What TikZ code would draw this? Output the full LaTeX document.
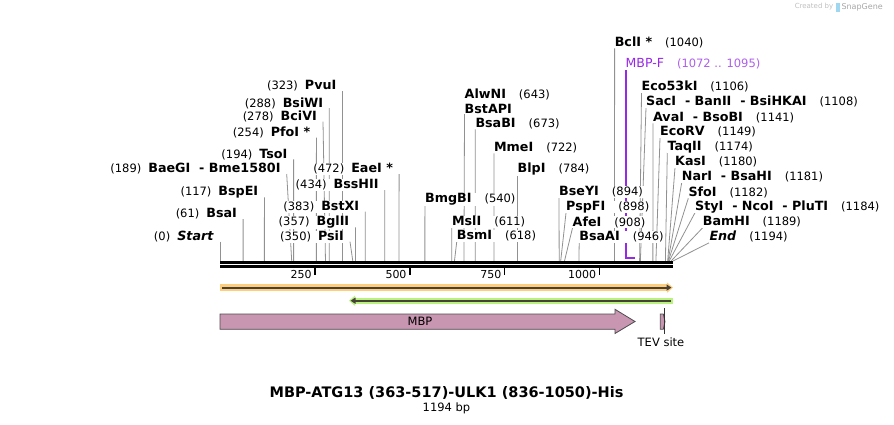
\documentclass[tikz,border=0pt]{standalone}
\usepackage{fontspec}
\setmainfont{DejaVu Sans}
\usetikzlibrary{arrows.meta, positioning, backgrounds}

\definecolor{cutgray}{RGB}{145,145,145}
\definecolor{mbppink}{RGB}{201,150,178}
\definecolor{primerpurple}{RGB}{150,40,230}
\definecolor{primerlight}{RGB}{175,95,235}
\definecolor{readorange}{RGB}{255,206,125}
\definecolor{readgreen}{RGB}{185,242,125}
\definecolor{readdark}{RGB}{70,66,58}
\definecolor{snapblue}{RGB}{160,215,240}

\newcommand{\cutnum}[1]{{\fontsize{11.5}{13}\selectfont\mdseries(#1)}}

\begin{document}
\begin{tikzpicture}[x=1pt, y=-1pt,
    node distance=2pt,
site/.style = {fill=white, inner xsep=1pt, inner ysep=0.5pt,
               font=\fontsize{12.7}{14}\selectfont\bfseries},
cut/.style = {cutgray, line width=0.8pt},
seq/.style = {line width=2.6pt},
tick/.style = {line width=1.8pt},
feat/.style = {fill=mbppink, draw=black!70, line width=0.8pt},
plain/.style = {inner sep=0pt, font=\fontsize{11}{12}\selectfont}
                        ]
\useasboundingbox (0,0) rectangle (894,424);
% sequence
\draw[seq] (220,262.3) -- (673,262.3);
\draw[seq] (220,266.3) -- (673,266.3);
\foreach \t in {250,500,750,1000} {
    \draw[tick] ({220+\t*0.3794},267) -- ++(0,8);
    \node[plain, anchor=east] at ({220+\t*0.3794-3},274.3) {\t};
}
%
\foreach \n/\p/\lx/\ly [count=\i] in {
    {\textit{Start}}/0/220/236.7,
    BsaI/61/243.1/214,
    BspEI/117/264.4/192.3,
    BaeGI~~- Bme1580I/189/286.7/169,
    TsoI/194/293.6/154.3,
    PfoI */254/316.4/132.7,
    BciVI/278/323/116.7,
    BsiWI/288/329.3/103,
    PvuI/323/342.5/86,
    PsiI/350/350/236.7,
    BglII/357/355.4/222.3,
    BstXI/383/365.3/206.7,
    BssHII/434/384.7/185,
    EaeI */472/399.1/169} {
    \node[site, anchor=east] (L\i) at (\lx-5,\ly) {\cutnum{\p}\hspace{7pt}\n};
    \coordinate (sL\i) at ({220+\p*0.3794},261);
    \begin{scope}[on background layer]
    \draw[cut] (L\i.east) ++(5,5) -- (sL\i);
    \end{scope}
}
%
\foreach \n/\p/\lx/\ly [count=\i] in {
    BmgBI/540/424.9/199,
    MslI/611/451.8/221.7,
    BsmI/618/456.7/236,
    BsaBI/673/475.3/123.3,
    MmeI/722/493.9/147.3,
    BlpI/784/517.5/169.3,
    BseYI/894/559/192,
    PspFI/898/566/207,
    AfeI/908/572.5/222,
    BsaAI/946/579.2/236.7,
    BclI */1040/614.6/42.3,
    Eco53kI/1106/641.5/86.7,
    SacI~~- BanII~~- BsiHKAI/1108/646/101.7,
    AvaI~~- BsoBI/1141/652.9/117.3,
    EcoRV/1149/660/131.7,
    TaqII/1174/667.3/146.7,
    KasI/1180/675/161.7,
    NarI~~- BsaHI/1181/681.7/176.7,
    SfoI/1182/688.3/192.3,
    StyI~~- NcoI~~- PluTI/1184/695/206.7,
    BamHI/1189/702.7/221.7,
    {\textit{End}}/1194/709.3/236.7} {
    \node[site, anchor=west] (R\i) at (\lx-1,\ly) {\n\hspace{13pt}\cutnum{\p}};
    \coordinate (sR\i) at ({220+\p*0.3794},261);
    \begin{scope}[on background layer]
    \draw[cut] (R\i.west) ++(1,6) -- (sR\i);
    \end{scope}
}
%
\node[site, anchor=west] (alwni) at (463.5,94) {AlwNI\hspace{13pt}\cutnum{643}};
\node[site, anchor=west] (bstapi) at (463.5,109) {BstAPI};
\coordinate (s643) at ({220+643*0.3794},261);
\begin{scope}[on background layer]
\draw[cut] (bstapi.west) ++(1,5) -- (s643);
\end{scope}
% primer
\node[site, anchor=west, font=\fontsize{12.5}{14}\selectfont, text=primerpurple] (mbpf)
    at (624.5,64) {MBP-F\hspace{13pt}{\color{primerlight}\cutnum{1072 .. 1095}}};
\coordinate (mbpfend) at ({220+1095*0.3794},258);
\begin{scope}[on background layer]
\draw[primerpurple, line width=1.6pt] (mbpf.west) ++(1.5,6) |- (mbpfend);
\end{scope}
% reads
\draw[readorange, line width=6.4pt, -{Triangle[length=6pt,width=10pt]}] (220,287.6) -- (673,287.6);
\draw[readdark, line width=2.2pt, -{Triangle[length=5pt,width=6pt]}] (222,287.6) -- (671.5,287.6);
\draw[readgreen, line width=6.4pt, -{Triangle[length=6pt,width=10pt]}] (673,300.7) -- (349,300.7);
\draw[readdark, line width=2.2pt, -{Triangle[length=5pt,width=6pt]}] (671,300.7) -- (350.5,300.7);
% features
\draw[feat] (220,314) -- (615,314) -- (615,309.3) -- (635,321.5)
    -- (615,333.5) -- (615,329.3) -- (220,329.3) -- cycle;
\node[plain, font=\fontsize{11.5}{13}\selectfont] (mbp) at (420,321.5) {MBP};
\draw[feat] (660.3,314) -- (663.3,314) -- (665,321.5) -- (663.3,329.3) -- (660.3,329.3) -- cycle;
\node[plain, font=\fontsize{11.5}{13}\selectfont] (tev) at (661,342) {TEV site};
\draw[black!80, line width=0.7pt] (664.5,308.3) -- (664.5,333.5);
% title
\node[plain, font=\fontsize{14.5}{16}\selectfont\bfseries] (title) at (446.5,392.5)
    {MBP-ATG13 (363-517)-ULK1 (836-1050)-His};
\node[plain, font=\fontsize{11.5}{13}\selectfont] (len) [below=3pt of title] {1194 bp};
% logo
\node[plain, font=\fontsize{7}{8}\selectfont, text=black!25] (created) at (814,7) {Created by};
\node[inner sep=0pt, fill=snapblue, minimum width=3.5pt, minimum height=9pt,
      right=2.5pt of created] (logo) {};
\node[plain, font=\fontsize{8}{9}\selectfont, text=black!35, right=1.5pt of logo] (snapgene) {SnapGene};
    \end{tikzpicture}
\end{document}
